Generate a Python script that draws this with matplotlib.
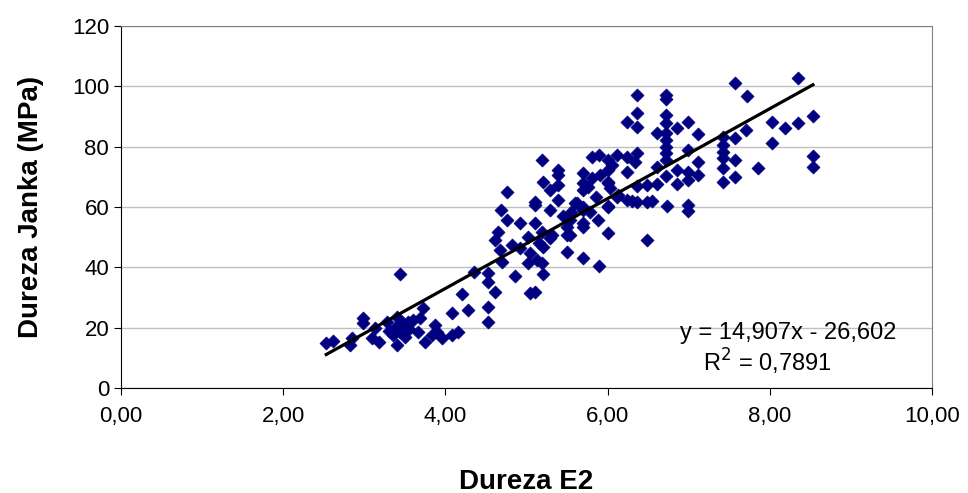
import matplotlib
matplotlib.use("Agg")
import matplotlib.pyplot as plt
import numpy as np

plt.rcParams['font.family'] = ['Liberation Sans', 'DejaVu Sans']

# Dureza E2 (x) vs Dureza Janka (y)
dureza_e2 = [
    2.53, 2.61, 2.85, 2.82, 2.98, 2.98, 3.13, 3.09, 3.18, 3.28, 3.40, 3.48,
    3.38, 3.44, 3.40, 3.54, 3.60, 3.69, 3.72, 3.66, 3.75, 3.87, 3.90, 3.96,
    3.83, 3.50, 3.35, 3.44, 4.35, 4.20, 4.28, 4.08, 4.16, 4.08, 3.30, 3.55,
    4.53, 4.53, 4.61, 4.53, 4.53, 5.04, 5.10, 4.86, 5.20, 4.70, 5.02, 5.13,
    5.19, 5.04, 4.67, 4.92, 5.20, 4.61, 4.65, 5.02, 5.19, 5.29, 5.50, 5.50,
    4.76, 4.92, 5.10, 4.69, 5.29, 4.76, 5.10, 5.10, 5.19, 5.39, 5.39, 5.20,
    5.29, 5.39, 5.39, 5.31, 5.50, 5.70, 5.89, 5.60, 5.70, 5.70, 5.88, 6.00,
    6.00, 5.45, 5.55, 5.15, 4.82,
    5.70, 5.70, 5.81, 5.81, 5.89, 6.00, 6.05, 6.00, 6.03, 5.90, 6.12, 6.24,
    6.36, 6.34, 6.24, 6.00, 6.00, 5.70, 5.76, 5.70, 5.70, 5.78, 6.13, 6.00,
    6.24, 6.36, 6.49, 6.49, 6.73, 6.12, 5.62, 5.54, 5.54, 5.85, 6.55, 6.30,
    6.36, 6.72, 6.72, 6.36, 6.24, 6.36, 6.72, 6.72, 6.86, 6.99, 6.61, 6.72,
    6.72, 7.11, 6.72, 6.72, 6.99, 6.72, 6.61, 6.86, 7.11, 6.99, 6.72, 6.99,
    7.11, 6.86, 6.61, 6.49, 6.36, 6.99, 6.99,
    7.42, 7.42, 7.42, 7.42, 7.42, 7.42, 7.57, 7.57, 7.57, 7.71, 7.85, 7.57,
    7.72, 8.35, 8.53, 8.35, 8.19, 8.03, 8.03, 8.53, 8.53,
]
dureza_janka = [
    14.9, 15.6, 16.6, 14.3, 23.2, 21.5, 19.9, 16.6, 15.2, 21.9, 23.5, 21.5,
    19.9, 18.6, 14.3, 21.9, 22.5, 23.2, 26.5, 18.6, 15.2, 20.9, 18.6, 16.6,
    17.6, 16.9, 17.6, 37.8, 38.4, 31.2, 25.9, 24.9, 18.6, 17.6, 19.0, 19.5,
    38.1, 35.1, 31.8, 26.8, 21.9, 31.5, 31.8, 37.1, 37.8, 41.8, 41.4, 42.4,
    41.4, 44.7, 45.7, 46.4, 46.7, 49.1, 51.7, 50.0, 51.7, 49.7, 53.4, 45.1,
    55.7, 54.7, 54.7, 59.0, 59.0, 65.0, 61.7, 60.7, 75.6, 72.3, 70.6, 68.3,
    65.6, 67.3, 62.3, 50.7, 50.7, 43.1, 40.4, 61.3, 59.0, 53.4, 55.7, 51.4,
    60.0, 57.0, 58.3, 48.0, 47.5,
    71.3, 65.6, 69.6, 76.6, 77.2, 75.6, 73.9, 67.9, 66.3, 70.6, 77.2, 76.6,
    77.9, 74.9, 71.6, 72.3, 68.3, 67.9, 66.6, 60.0, 54.7, 58.3, 64.0, 60.3,
    62.3, 61.7, 61.7, 49.1, 60.3, 63.3, 61.3, 55.7, 50.7, 63.5, 62.0, 62.0,
    97.1, 97.1, 96.0, 91.1, 88.2, 86.5, 90.5, 87.8, 86.2, 88.2, 84.5, 84.5,
    82.2, 84.2, 79.9, 77.9, 78.9, 75.6, 73.3, 72.3, 74.9, 71.6, 70.3, 68.9,
    70.6, 67.6, 67.6, 67.3, 67.0, 60.7, 58.7,
    83.2, 80.5, 78.2, 76.2, 72.9, 68.3, 82.9, 75.6, 69.9, 85.5, 72.9, 101.1,
    96.8, 102.8, 90.2, 87.8, 86.2, 88.2, 81.2, 76.9, 73.3,
]

slope = 14.907
intercept = -26.602
r2 = 0.7891

x_ticks = [0, 2, 4, 6, 8, 10]
y_ticks = [0, 20, 40, 60, 80, 100, 120]

fig = plt.figure(figsize=(9.68, 4.93), dpi=100)
ax = fig.add_axes([0.125, 0.213, 0.838, 0.734])

ax.scatter(dureza_e2, dureza_janka, marker='D', s=44, color='#000080',
           edgecolors='#000080', linewidths=0.5, zorder=3)

xl = np.array([min(dureza_e2), max(dureza_e2)])
ax.plot(xl, slope * xl + intercept, color='black', lw=2.3, zorder=4)

ax.set_xlim(0, 10)
ax.set_ylim(0, 120)
ax.set_xticks(x_ticks)
ax.set_xticklabels([f"{v:.2f}".replace('.', ',') for v in x_ticks])
ax.set_yticks(y_ticks)
ax.tick_params(labelsize=16, length=5, direction='out', color='black')
ax.tick_params(axis='x', pad=8)

ax.yaxis.grid(True, color='#c0c0c0', lw=1)
ax.set_axisbelow(True)
for side in ['top', 'right']:
    ax.spines[side].set_color('#808080')
for side in ['left', 'bottom']:
    ax.spines[side].set_color('black')

ax.set_xlabel("Dureza E2", fontsize=20, fontweight='bold', labelpad=30)
ax.set_ylabel("Dureza Janka (MPa)", fontsize=20, fontweight='bold', labelpad=20)

ax.text(0.689, 0.152, "y = 14,907x - 26,602", transform=ax.transAxes,
        fontsize=17, ha='left', va='center')
ax.text(0.718, 0.072, r"R$^2$ = 0,7891", transform=ax.transAxes,
        fontsize=17, ha='left', va='center')

fig.savefig("out.png", dpi=100)
